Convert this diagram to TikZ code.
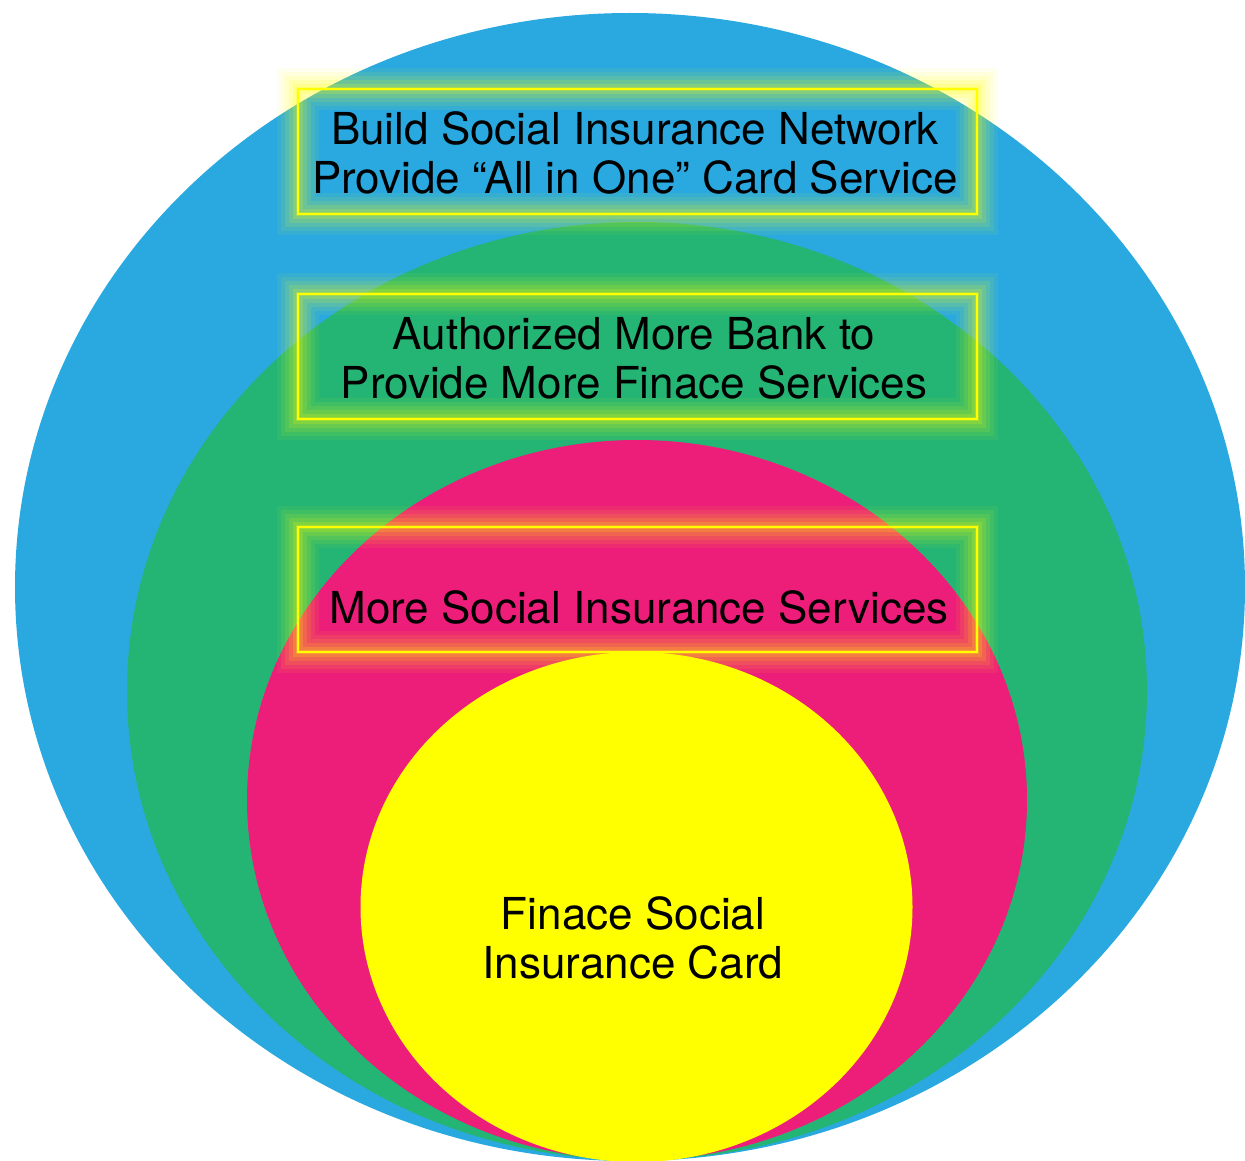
\documentclass[tikz,border=0pt]{standalone}
\usepackage{fontspec}
\setmainfont{TeX Gyre Heros}
\definecolor{cblue}{HTML}{29A9E0}
\definecolor{cgreen}{HTML}{24B574}
\definecolor{cpink}{HTML}{EC1E79}
\definecolor{cyel}{HTML}{FFFF00}
\tikzset{
  boxnode/.style={minimum width=679pt, minimum height=125pt, inner sep=0pt, draw=none},
  txt/.style={font=\fontsize{44}{49}\selectfont, align=center, inner sep=0pt, text=black},
  glowline/.style={cyel, line width=2pt}
}
\newcommand{\glowbox}[1]{%
  \foreach \w/\o in {42/0.06, 34/0.08, 26/0.1, 18/0.13, 10/0.17, 4/0.25}
    \draw[cyel, line width=\w pt, opacity=\o] (#1.north west) rectangle (#1.south east);
  \draw[glowline] (#1.north west) rectangle (#1.south east);
}
\begin{document}
\begin{tikzpicture}[x=1pt,y=-1pt]
\useasboundingbox (0,0) rectangle (1245,1161);
\clip (0,0) rectangle (1245,1161);
\fill[cblue] (630,587) ellipse [x radius=615, y radius=574];
\fill[cgreen] (637,691) ellipse [x radius=510, y radius=469];
\fill[cpink] (637,800) ellipse [x radius=390, y radius=360];
\fill[cyel] (636.5,907) ellipse [x radius=276, y radius=255];

\node[boxnode] (b1) at (637.5,151.5) {};
\node[boxnode] (b2) at (637.5,356.5) {};
\node[boxnode] (b3) at (637.5,589.5) {};
\glowbox{b1}
\glowbox{b2}
\glowbox{b3}

\node[txt] (t1) at (635,153) {Build Social Insurance Network\\Provide “All in One” Card Service};
\node[txt] (t2) at (634,358) {Authorized More Bank to\\Provide More Finace Services};
\node[txt] (t3) at (639,607) {More Social Insurance Services};
\node[txt] (t4) at (633,938) {Finace Social\\Insurance Card};
\end{tikzpicture}
\end{document}
